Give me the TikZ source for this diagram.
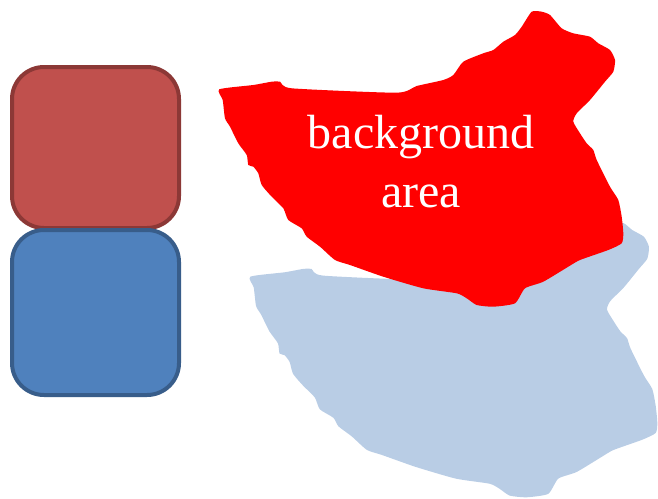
\documentclass[tikz,border=0pt]{standalone}
\usepackage{fontspec}
\setmainfont{Liberation Serif}
\definecolor{boxred}{HTML}{C0504D}
\definecolor{boxredline}{HTML}{8C3836}
\definecolor{boxblue}{HTML}{4F81BD}
\definecolor{boxblueline}{HTML}{385D8A}
\definecolor{areablue}{HTML}{B9CDE5}
\definecolor{areared}{HTML}{FF0000}
\tikzset{
  area outline/.style={insert path={
    plot[smooth cycle, tension=0.35] coordinates {
      (219.3,89.3) (253.3,85) (271.7,81.7) (280,81.7) (291.7,88.3)
      (396.7,92.7) (416.7,86) (443.3,80) (453.3,75) (463.3,61.7)
      (483.3,53.3) (493.3,50) (503.3,41.7) (515,35) (521.7,26.7)
      (531.7,11.7) (541.7,11.7) (550,15) (561.7,28.3) (573.3,33.3)
      (590,36.7) (598.3,43.3) (610,50) (615,60) (613.3,71.7)
      (605,81.7) (590,100) (576.7,113.3) (573.3,121.7) (580,133.3)
      (586.7,143.3) (593.3,150) (596.7,160) (610,186.7) (618.3,200)
      (621.7,216.7) (623.3,233.3) (621.7,243.3) (608.3,250) (580,260)
      (568.3,266.7) (543.3,281.7) (525,288.3) (515,303.3) (493.3,306.7)
      (476.7,305) (466.7,298.3) (456.7,293.3) (423.3,288.3) (383.3,276.7)
      (350,265) (335,260) (320,246.7) (306.7,236.7) (301.7,228.3)
      (288.3,220) (283.3,208.3) (271.7,196.7) (261.7,185) (258.3,173.3)
      (253.3,166.7) (248.3,165) (246.7,155) (238.3,143.3) (230,126.7)
      (225,118.3) (222.7,100)
    }}},
  roundbox/.style={line width=4pt, rounded corners=32pt}
}
\begin{document}
\begin{tikzpicture}[x=1pt,y=-1pt]
  \useasboundingbox (0,0) rectangle (658,498);
  % stacked rounded boxes
  \draw[roundbox, draw=boxredline, fill=boxred] (12,67) rectangle (179,228);
  \draw[roundbox, draw=boxblueline, fill=boxblue] (12,230) rectangle (179,395);
  % pale copy of the area, offset down and right
  \begin{scope}[shift={(29.4,186)}, xscale=1.0074, yscale=1.015]
    \fill[areablue, area outline];
  \end{scope}
  % highlighted area
  \fill[areared, area outline];
  \node[text=white, align=center, inner sep=0pt,
        font=\fontsize{48}{59}\selectfont] (label) at (421,161.5) {background\\area};
\end{tikzpicture}
\end{document}
